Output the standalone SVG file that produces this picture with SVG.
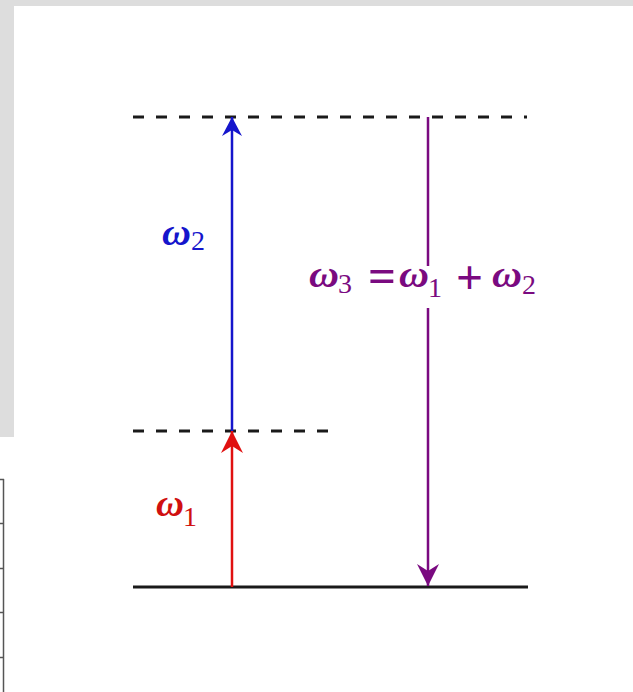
<svg xmlns="http://www.w3.org/2000/svg" width="633" height="692" viewBox="0 0 633 692">
<style>
.lvl{stroke:#1a1a1a;stroke-width:3;fill:none}
.dash{stroke-dasharray:11 12}
.lbl text{font-family:"Liberation Serif","Times New Roman",serif}
.w{font-style:italic;font-weight:bold;font-size:38px}
.sub{font-size:28px}
.op{font-size:48px;font-weight:bold}
</style>
<defs>
<marker id="hb" markerUnits="userSpaceOnUse" markerWidth="24" markerHeight="24" viewBox="-22 -12 24 24" refX="0" refY="0" orient="auto">
<path d="M0,0 L-19,-10 L-13,0 L-19,10 Z" fill="#1515cc"/>
</marker>
<marker id="hr" markerUnits="userSpaceOnUse" markerWidth="26" markerHeight="26" viewBox="-24 -13 26 26" refX="0" refY="0" orient="auto">
<path d="M0,0 L-22,-11 L-15,0 L-22,11 Z" fill="#e01010"/>
</marker>
<marker id="hp" markerUnits="userSpaceOnUse" markerWidth="26" markerHeight="26" viewBox="-24 -13 26 26" refX="0" refY="0" orient="auto">
<path d="M0,0 L-22,-11 L-15,0 L-22,11 Z" fill="#7a0a80"/>
</marker>
</defs>
<rect width="633" height="692" fill="#ffffff"/>
<g id="background">
<rect x="0" y="0" width="633" height="6" fill="#dddddd"/>
<rect x="0" y="0" width="14" height="437" fill="#dddddd"/>
</g>
<g id="table-edge" stroke="#555" stroke-width="1.5" fill="none">
<line x1="3.5" y1="479" x2="3.5" y2="692"/>
<line x1="0" y1="479.5" x2="4" y2="479.5"/>
<line x1="0" y1="523.5" x2="4" y2="523.5"/>
<line x1="0" y1="568.5" x2="4" y2="568.5"/>
<line x1="0" y1="612.5" x2="4" y2="612.5"/>
<line x1="0" y1="657.5" x2="4" y2="657.5"/>
</g>
<g id="level-top"><line class="lvl dash" x1="133" y1="117" x2="527" y2="117"/></g>
<g id="level-mid"><line class="lvl dash" x1="133" y1="431" x2="333" y2="431"/></g>
<g id="level-ground"><line class="lvl" x1="133" y1="587" x2="528" y2="587"/></g>
<g id="connectors">
<line x1="232" y1="587" x2="232" y2="431" stroke="#e01010" stroke-width="2.5" marker-end="url(#hr)"/>
<line x1="232" y1="431" x2="232" y2="117" stroke="#1515cc" stroke-width="2.5" marker-end="url(#hb)"/>
<line x1="428" y1="117" x2="428" y2="266" stroke="#7a0a80" stroke-width="2.5"/>
<line x1="428" y1="308" x2="428" y2="586" stroke="#7a0a80" stroke-width="2.5" marker-end="url(#hp)"/>
</g>
<g id="label-w2" class="lbl" fill="#1515cc">
<text class="w" x="162" y="245" textLength="29" lengthAdjust="spacingAndGlyphs">ω</text>
<text class="sub" x="191" y="250">2</text>
</g>
<g id="label-w1" class="lbl" fill="#d01010">
<text class="w" x="156" y="516" textLength="28" lengthAdjust="spacingAndGlyphs">ω</text>
<text class="sub" x="183" y="526">1</text>
</g>
<g id="label-w3" class="lbl" fill="#7a0a80">
<text class="w" x="309" y="287" textLength="30" lengthAdjust="spacingAndGlyphs">ω</text>
<text class="sub" x="338" y="293">3</text>
<text class="op" x="368" y="292" textLength="28" lengthAdjust="spacingAndGlyphs">=</text>
<text class="w" x="399" y="287" textLength="30" lengthAdjust="spacingAndGlyphs">ω</text>
<text class="sub" x="428" y="297">1</text>
<text class="op" x="456" y="294" textLength="27" lengthAdjust="spacingAndGlyphs">+</text>
<text class="w" x="492" y="287" textLength="30" lengthAdjust="spacingAndGlyphs">ω</text>
<text class="sub" x="522" y="294">2</text>
</g>
</svg>
